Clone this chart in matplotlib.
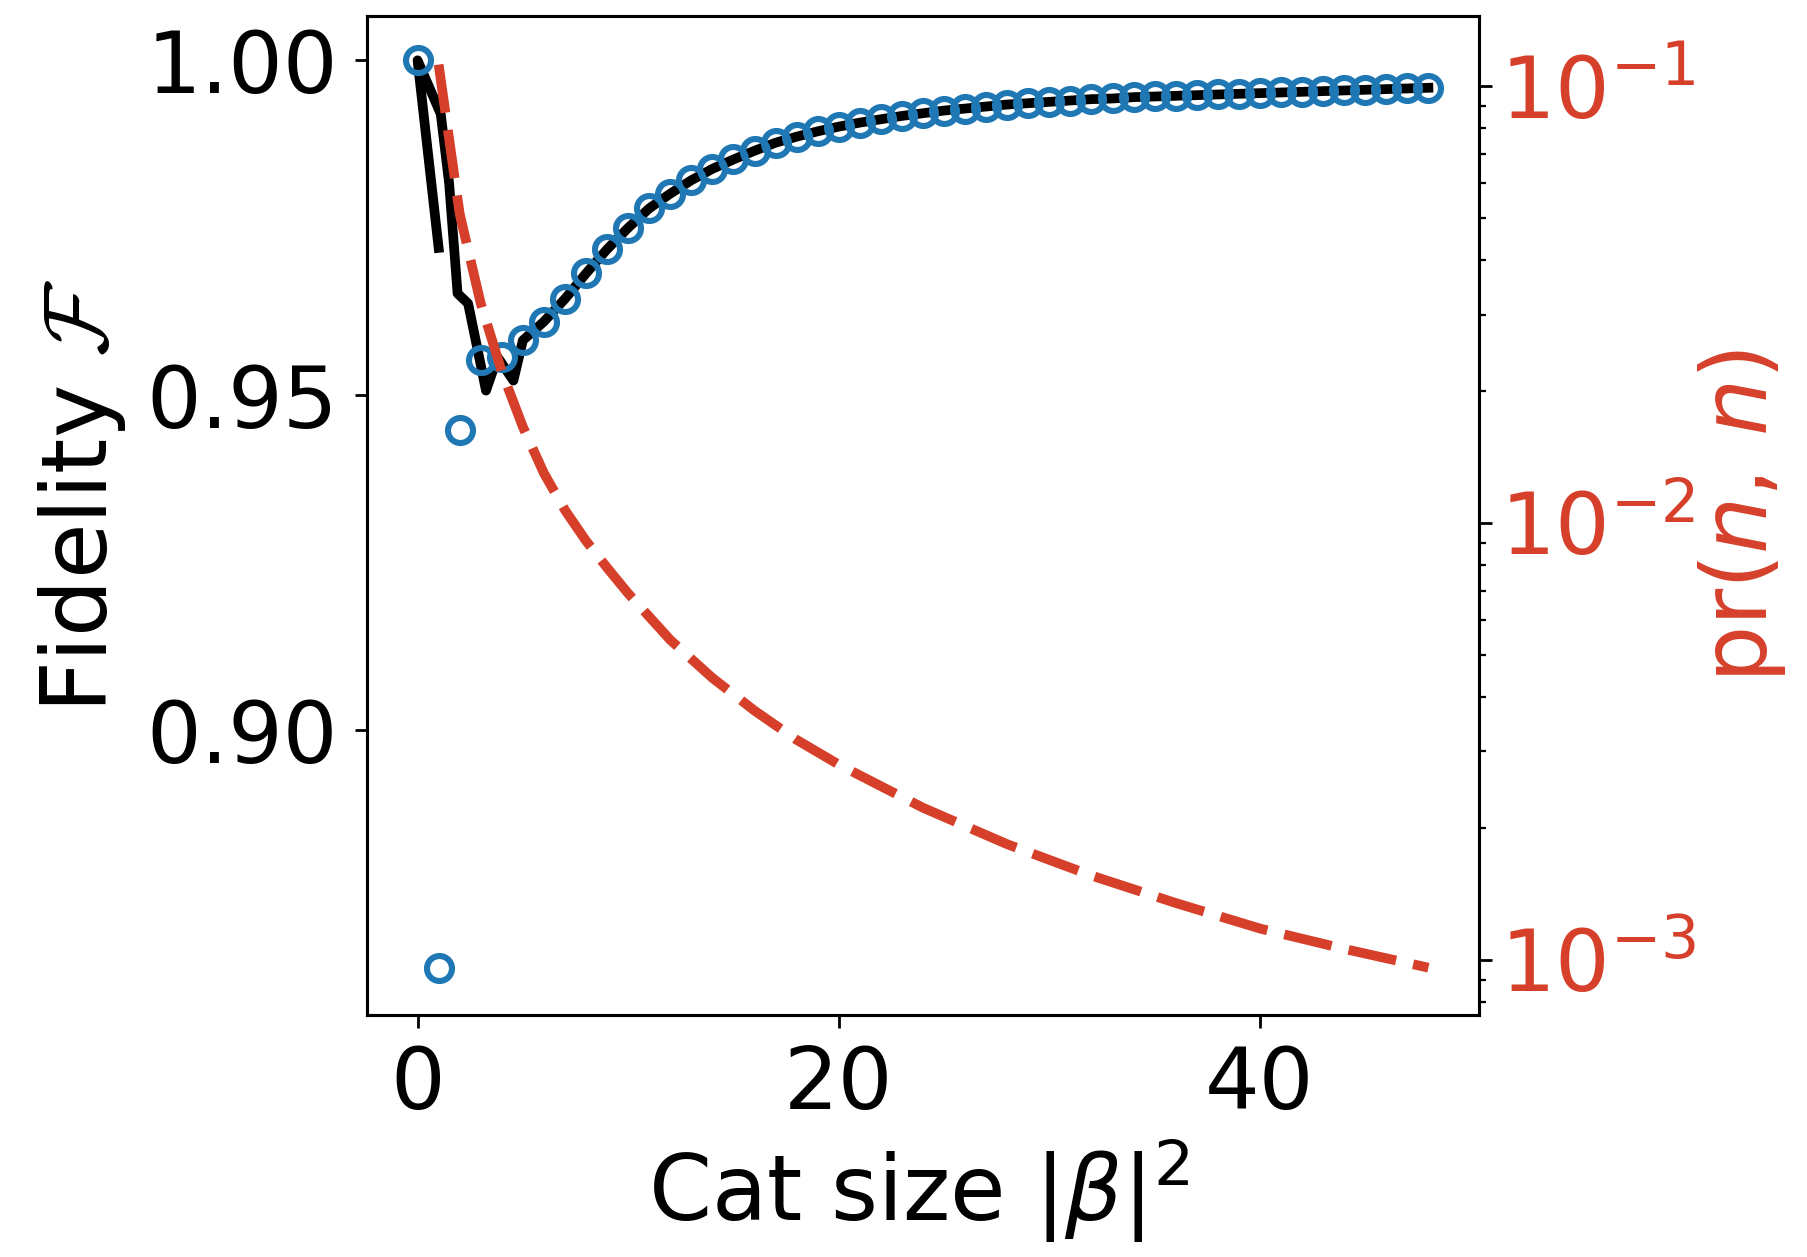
import matplotlib
matplotlib.use("Agg")
import matplotlib.pyplot as plt
import numpy as np

# fidelity of the measured cat state (blue circles)
fid_x = list(range(0, 49))
fid_y = [1.000, 0.8645, 0.9448, 0.9552, 0.9557, 0.9582, 0.9610, 0.9644, 0.9682, 0.9718,
         0.9750, 0.9779, 0.9801, 0.9821, 0.9838, 0.9852, 0.9865, 0.9877, 0.9886, 0.9894,
         0.9901, 0.9907, 0.9912, 0.9917, 0.9921, 0.9925, 0.9928, 0.9931, 0.9934, 0.9936,
         0.9938, 0.9940, 0.9942, 0.9943, 0.9945, 0.9946, 0.9947, 0.9948, 0.9949, 0.9950,
         0.9951, 0.9952, 0.9953, 0.9954, 0.9955, 0.9956, 0.9957, 0.9958, 0.9959]

# theory curve (black), jagged head for small cat sizes
theory_head_x = [1.0, 0.0, 1.1, 1.5, 1.9, 2.4, 3.25, 3.8, 4.55]
theory_head_y = [0.972, 1.000, 0.992, 0.9816, 0.9652, 0.9637, 0.9507, 0.9557, 0.9522]

# pr(n, n) on the right log axis (red dashed)
pr_x = [1, 2, 3, 4, 5, 6, 7, 8, 9, 10, 12, 14, 16, 18, 20, 24, 28, 32, 36, 40, 44, 48]
pr_y = [0.112, 0.051, 0.0318, 0.0222, 0.0166, 0.0130, 0.0107, 0.0091, 0.0079, 0.0069,
        0.0054, 0.00442, 0.00372, 0.00319, 0.00280, 0.00223, 0.00184, 0.00156, 0.00135,
        0.00118, 0.00106, 0.00096]

BLUE = '#1f77b4'
RED = '#d6402b'

plt.rcParams['font.family'] = ['DejaVu Sans']
plt.rcParams['mathtext.fontset'] = 'custom'
plt.rcParams['mathtext.rm'] = 'DejaVu Sans'
plt.rcParams['mathtext.it'] = 'DejaVu Sans:italic'
plt.rcParams['mathtext.cal'] = 'cmsy10'

TICK_FS = 31
LABEL_FS = 32.5

fig = plt.figure(figsize=(9.04, 6.285), dpi=200)
ax = fig.add_axes([0.2030, 0.1925, 0.6150, 0.7947])

# black theory line under the circles
tx = theory_head_x + fid_x[5:]
ty = theory_head_y + fid_y[5:]
ax.plot(tx, ty, color='black', lw=3.5, zorder=2)
ax.plot(fid_x, fid_y, 'o', mfc='none', mec=BLUE, ms=9, mew=2.2, zorder=3)

ax.set_xlim(-2.4, 50.4)
ax.set_ylim(0.8575, 1.0066)
ax.set_xticks([0, 20, 40])
ax.set_yticks([0.90, 0.95, 1.00])
ax.set_yticklabels(['0.90', '0.95', '1.00'])
ax.tick_params(labelsize=TICK_FS, length=4.5, width=1.0, pad=6)
for s in ax.spines.values():
    s.set_linewidth(1.1)

ax.set_xlabel(r'Cat size $|\beta|^2$', fontsize=LABEL_FS)
ax.set_ylabel(r'Fidelity $\mathcal{F}$', fontsize=LABEL_FS)
ax.yaxis.set_label_coords(-0.215, 0.52)
ax.xaxis.set_label_coords(0.496, -0.122)

ax2 = ax.twinx()
ax2.plot(pr_x, pr_y, color=RED, lw=3.5, dashes=(5.0, 1.8))
ax2.set_yscale('log')
ax2.set_ylim(7.48e-4, 0.1446)
ax2.tick_params(axis='y', labelsize=TICK_FS, labelcolor=RED, length=4.5, width=1.0, pad=3)
ax2.tick_params(axis='y', which='minor', length=2.5, width=0.8)
for s in ax2.spines.values():
    s.set_linewidth(1.1)
ax2.set_ylabel(r'pr$(n,\,n)$', fontsize=LABEL_FS, color=RED)
ax2.yaxis.set_label_coords(1.195, 0.5)

fig.savefig('out.png', dpi=200)
